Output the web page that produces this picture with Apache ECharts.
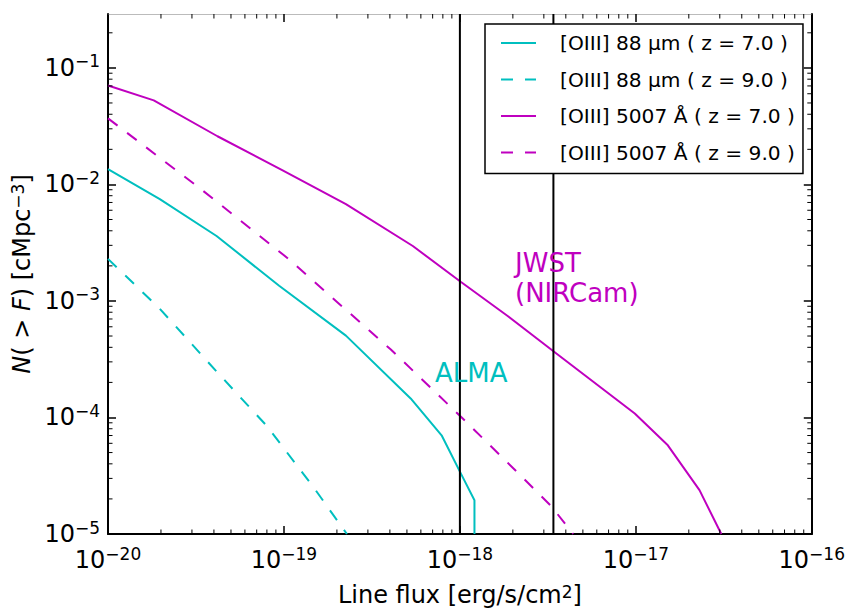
<!DOCTYPE html>
<html><head><meta charset="utf-8">
<script src="https://cdn.jsdelivr.net/npm/echarts@6/dist/echarts.min.js"></script>
<style>html,body{margin:0;padding:0;background:#fff}#c{width:848px;height:612px}</style>
</head><body><div id="c"></div>
<script>
// ---- data ----
const xMin = 1e-20, xMax = 1e-16;
const yMin = 1e-5, yMax = 0.29;
const xMajorTicks = [1e-20, 1e-19, 1e-18, 1e-17, 1e-16];
const yMajorTicks = [1e-5, 1e-4, 1e-3, 1e-2, 1e-1];

const seriesNames = ['[OIII] 88 μm ( z = 7.0 )', '[OIII] 88 μm ( z = 9.0 )',
                     '[OIII] 5007 Å ( z = 7.0 )', '[OIII] 5007 Å ( z = 9.0 )'];

const c7Flux = [1.0e-20, 1.97e-20, 4.14e-20, 9.39e-20, 2.25e-19, 5.25e-19, 7.87e-19, 1.01e-18, 1.21e-18, 1.21e-18];
const c7N    = [0.01352, 0.00748, 0.00361, 0.00135, 5.04e-4, 1.456e-4, 7.03e-5, 3.33e-5, 1.95e-5, 1.0e-5];

const c9Flux = [1.0e-20, 1.97e-20, 4.14e-20, 7.94e-20, 1.445e-19, 2.28e-19];
const c9N    = [0.002296, 8.57e-4, 2.48e-4, 8.55e-5, 2.62e-5, 1.0e-5];

const m7Flux = [1.0e-20, 1.82e-20, 4.19e-20, 9.77e-20, 2.25e-19, 5.40e-19, 1.01e-18, 1.86e-18, 3.43e-18, 9.86e-18, 1.52e-17, 2.30e-17, 3.06e-17];
const m7N    = [0.0706, 0.0526, 0.0259, 0.01324, 0.00678, 0.00296, 0.00146, 7.46e-4, 3.67e-4, 1.08e-4, 5.77e-5, 2.38e-5, 1.0e-5];

const m9Flux = [1.0e-20, 3.32e-20, 1.045e-19, 4.05e-19, 1.01e-18, 2.01e-18, 3.30e-18, 4.40e-18];
const m9N    = [0.0369, 0.00929, 0.00234, 3.83e-4, 1.02e-4, 3.67e-5, 1.74e-5, 1.0e-5];

const almaLimit = 1.0e-18, jwstLimit = 3.4e-18;

// ---- styling ----
const CYAN = '#00BFBF', MAG = '#BF00BF';
const FONT = 'DejaVu Sans';
const zip = (a, b) => a.map((v, i) => [v, b[i]]);

function minorValues(lo, hi) {
  const out = [];
  for (let e = Math.floor(Math.log10(lo)); e <= Math.ceil(Math.log10(hi)); e++) {
    for (let m = 2; m <= 9; m++) {
      const v = m * Math.pow(10, e);
      if (v > lo && v < hi) out.push(v);
    }
  }
  return out;
}
const MINOR = 4.5;
function minorTickSeries(values, dir) {
  return {
    type: 'custom', silent: true, clip: false, z: 6, animation: false,
    data: values.map(v => dir === 'x' ? [v, yMin] : [xMin, v]),
    renderItem: (params, api) => {
      const st = { stroke: '#000', lineWidth: 1 };
      if (dir === 'x') {
        const v = api.value(0);
        const b = api.coord([v, yMin]), t = api.coord([v, yMax]);
        return { type: 'group', children: [
          { type: 'line', shape: { x1: b[0], y1: b[1], x2: b[0], y2: b[1] - MINOR }, style: st },
          { type: 'line', shape: { x1: t[0], y1: t[1], x2: t[0], y2: t[1] + MINOR }, style: st }
        ]};
      } else {
        const v = api.value(1);
        const l = api.coord([xMin, v]), r = api.coord([xMax, v]);
        return { type: 'group', children: [
          { type: 'line', shape: { x1: l[0], y1: l[1], x2: l[0] + MINOR, y2: l[1] }, style: st },
          { type: 'line', shape: { x1: r[0], y1: r[1], x2: r[0] - MINOR, y2: r[1] }, style: st }
        ]};
      }
    }
  };
}

function powLabel(v) {
  const lg = Math.log10(v), e = Math.round(lg);
  if (Math.abs(lg - e) > 1e-6) return '';
  return '{b|10}{s|' + (e < 0 ? '\u2212' : '') + Math.abs(e) + '}';
}
const labelRich = {
  b: { fontFamily: FONT, fontSize: 24, color: '#000', lineHeight: 30 },
  s: { fontFamily: FONT, fontSize: 17, color: '#000', lineHeight: 20, verticalAlign: 'top' }
};

function makeAxis(isX, pos, withLabels, lineColor, lineW) {
  return {
    type: 'log', logBase: 10, position: pos,
    min: isX ? xMin : yMin, max: isX ? xMax : yMax,
    axisLine: { show: true, onZero: false, lineStyle: { color: lineColor, width: lineW } },
    axisTick: { show: true, inside: true, length: 8, lineStyle: { color: '#000', width: 1.5 },
                customValues: isX ? xMajorTicks : yMajorTicks },
    axisLabel: withLabels ? {
      show: true, formatter: powLabel, rich: labelRich, margin: isX ? 11 : 8,
      customValues: isX ? xMajorTicks : yMajorTicks
    } : { show: false },
    splitLine: { show: false },
    minorTick: { show: false }
  };
}

const xAxisBottom = makeAxis(true, 'bottom', true, '#000', 2);
Object.assign(xAxisBottom, {
  name: 'Line flux [erg/s/cm{s|2}]', nameLocation: 'middle', nameGap: 49,
  nameTextStyle: { fontFamily: FONT, fontSize: 24, color: '#000',
    rich: { s: { fontFamily: FONT, fontSize: 17, color: '#000', verticalAlign: 'top', lineHeight: 18 } } }
});
const xAxisTop = makeAxis(true, 'top', false, '#bbb', 1);
const yAxisLeft = makeAxis(false, 'left', true, '#000', 2);
Object.assign(yAxisLeft, {
  name: '{i|N}( > {i|F}) [cMpc{s|\u22123}]', nameLocation: 'middle', nameGap: 61, nameRotate: 90,
  nameTextStyle: { fontFamily: FONT, fontSize: 24, color: '#000',
    rich: { i: { fontFamily: FONT, fontSize: 24, fontStyle: 'italic', color: '#000' },
            s: { fontFamily: FONT, fontSize: 17, color: '#000', verticalAlign: 'top', lineHeight: 18 } } }
});
const yAxisRight = makeAxis(false, 'right', false, '#000', 2);

function lineSeries(name, flux, n, color, dashed) {
  return {
    name, type: 'line', data: zip(flux, n), symbol: 'none', showSymbol: false,
    smooth: false, animation: false, z: 3,
    lineStyle: { color, width: 2, type: dashed ? [12, 12] : 'solid' },
    itemStyle: { color }
  };
}
function vline(val) {
  return {
    type: 'line', data: [[val, yMin], [val, yMax]], symbol: 'none', silent: true,
    animation: false, z: 4, lineStyle: { color: '#000', width: 2 }, itemStyle: { color: '#000' }
  };
}

const chart = echarts.init(document.getElementById('c'), null, { renderer: 'svg' });
chart.setOption({
  backgroundColor: '#fff',
  animation: false,
  grid: { left: 108, right: 33, top: 14, bottom: 76, containLabel: false },
  xAxis: [xAxisBottom, xAxisTop],
  yAxis: [yAxisLeft, yAxisRight],
  legend: {
    data: seriesNames, orient: 'vertical', left: 485, top: 24,
    backgroundColor: '#fff', borderColor: '#000', borderWidth: 1.5, borderRadius: 0,
    padding: [6, 8, 8, 15], itemGap: 10.5, itemWidth: 35, itemHeight: 14, z: 10,
    itemStyle: { opacity: 0, borderWidth: 0 },
    textStyle: { fontFamily: FONT, fontSize: 20.2, color: '#000', lineHeight: 26, padding: [0, 0, 0, 19] },
    selectedMode: false
  },
  graphic: [
    { type: 'text', left: 435, top: 360, z: 20, silent: true,
      style: { text: 'ALMA', fill: CYAN, font: '26px "' + FONT + '"' } },
    { type: 'text', left: 515, top: 248, z: 20, silent: true,
      style: { text: 'JWST\n(NIRCam)', fill: MAG, font: '26px "' + FONT + '"', lineHeight: 30 } }
  ],
  series: [
    lineSeries(seriesNames[0], c7Flux, c7N, CYAN, false),
    lineSeries(seriesNames[1], c9Flux, c9N, CYAN, true),
    lineSeries(seriesNames[2], m7Flux, m7N, MAG, false),
    lineSeries(seriesNames[3], m9Flux, m9N, MAG, true),
    vline(almaLimit),
    vline(jwstLimit),
    minorTickSeries(minorValues(xMin, xMax), 'x'),
    minorTickSeries(minorValues(yMin, yMax), 'y')
  ]
});
</script></body></html>
